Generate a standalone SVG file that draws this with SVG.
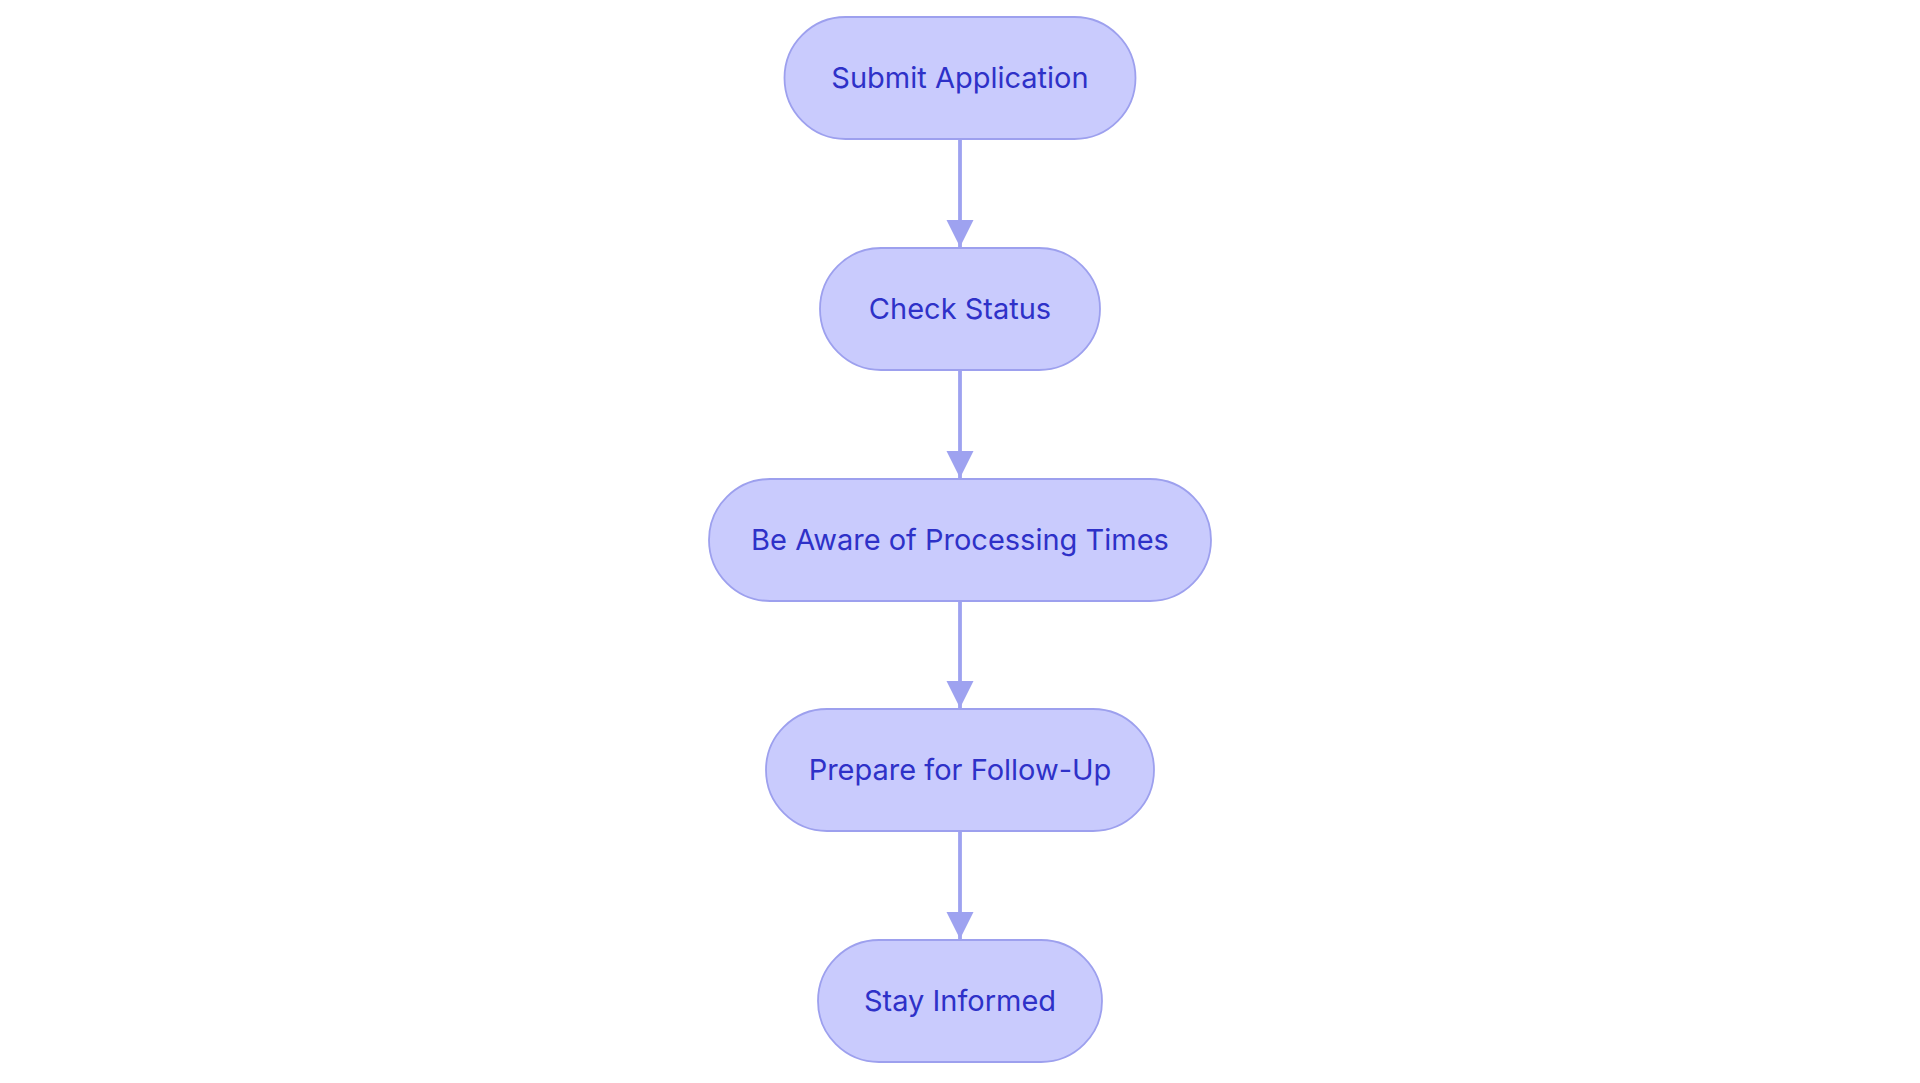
<svg xmlns="http://www.w3.org/2000/svg" width="1920" height="1083" viewBox="0 0 1920 1083">
<style>
.node rect{fill:#C9CBFD;stroke:#9DA0EE;stroke-width:1.8}
.node text{font-family:Inter,"Noto Sans","Liberation Sans",sans-serif;font-size:29px;fill:#2E31C8;text-anchor:middle}
.edge{stroke:#9EA2F0;stroke-width:3.8;fill:none}
</style>
<defs>
<marker id="arrow" markerUnits="userSpaceOnUse" markerWidth="28" markerHeight="28" refX="27" refY="13.5" orient="auto">
<path d="M0,0 L27,13.5 L0,27 Z" fill="#9EA2F0"/>
</marker>
</defs>
<rect width="1920" height="1083" fill="#FFFFFF"/>
<g id="connectors">
<line class="edge" x1="960" y1="139" x2="960" y2="247" marker-end="url(#arrow)"/>
<line class="edge" x1="960" y1="370" x2="960" y2="478" marker-end="url(#arrow)"/>
<line class="edge" x1="960" y1="601" x2="960" y2="708" marker-end="url(#arrow)"/>
<line class="edge" x1="960" y1="831" x2="960" y2="939" marker-end="url(#arrow)"/>
</g>
<g id="node-submit" class="node">
<rect x="784.5" y="17" width="351" height="122" rx="61" ry="61"/>
<text x="960" y="87.5">Submit Application</text>
</g>
<g id="node-check" class="node">
<rect x="820" y="248" width="280" height="122" rx="61" ry="61"/>
<text x="960" y="318.5">Check Status</text>
</g>
<g id="node-aware" class="node">
<rect x="709" y="479" width="502" height="122" rx="61" ry="61"/>
<text x="960" y="549.5">Be Aware of Processing Times</text>
</g>
<g id="node-prepare" class="node">
<rect x="766" y="709" width="388" height="122" rx="61" ry="61"/>
<text x="960" y="779.5">Prepare for Follow-Up</text>
</g>
<g id="node-stay" class="node">
<rect x="818" y="940" width="284" height="122" rx="61" ry="61"/>
<text x="960" y="1010.5">Stay Informed</text>
</g>
</svg>
